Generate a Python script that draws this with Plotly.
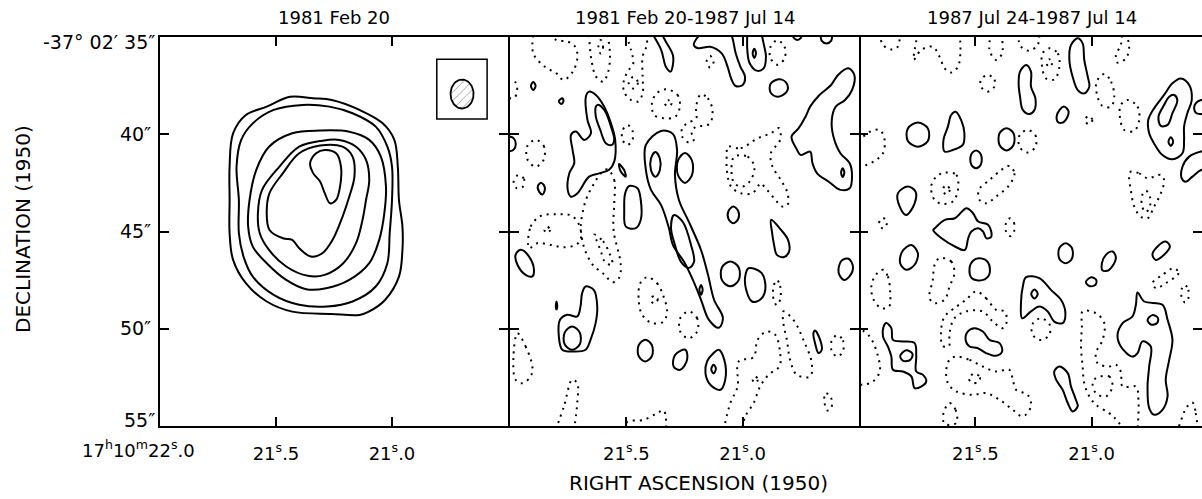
import numpy as np
import plotly.graph_objects as go

# ---------------- labels / ticks ----------------
PANEL_TITLES = ["1981 Feb 20", "1981 Feb 20-1987 Jul 14", "1987 Jul 24-1987 Jul 14"]
RA_TICKS = [21.5, 21.0]
RA_TICKTEXT = ["21<sup>s</sup>.5", "21<sup>s</sup>.0"]
RA_ORIGIN = 22.0
RA_ORIGIN_LABEL = "17<sup>h</sup>10<sup>m</sup>22<sup>s</sup>.0"
DEC_TICKS = [40, 45, 50]
DEC_TICKTEXT = ["40″", "45″", "50″"]
DEC_END_TICKS = [35, 55]
DEC_END_TEXT = ["-37° 02′ 35″", "55″"]
X_TITLE = "RIGHT ASCENSION (1950)"
Y_TITLE = "DECLINATION (1950)"
RA_RANGE_FULL = [22.0, 20.5]
RA_RANGE_CUT = [22.0, 20.526]
DEC_RANGE = [55, 35]

# beam (panel 1)
BEAM_RA, BEAM_DEC = 20.698, 37.93
BEAM_RA_WIDTH, BEAM_DEC_HEIGHT = 0.099, 1.49
BEAM_BOX_RA = [20.807, 20.59]
BEAM_BOX_DEC = [36.15, 39.21]

# ---------------- contours: (RA seconds, Dec arcsec) ----------------
# Panel 1: 1981 Feb 20 (all positive)
P1_POS = [
    [(21.34,38.15),(21.44,38.07),(21.54,38.58),(21.63,39.01),(21.685,39.95),(21.70,41.66),(21.70,43.38),(21.70,45.09),(21.685,46.46),(21.63,47.66),(21.54,48.60),(21.43,49.12),(21.26,49.24),(21.14,49.29),(21.10,49.12),(21.03,48.52),(20.97,47.32),(20.955,45.95),(20.955,44.75),(20.97,43.38),(20.975,41.66),(20.99,40.29),(21.04,39.44),(21.14,38.75),(21.26,38.24)],
    [(21.385,38.49),(21.51,38.75),(21.60,39.44),(21.65,40.29),(21.67,41.66),(21.66,43.38),(21.66,45.09),(21.64,46.29),(21.60,47.32),(21.51,48.26),(21.40,48.77),(21.28,48.86),(21.17,48.60),(21.07,47.83),(21.02,46.63),(21.01,45.09),(21.00,43.38),(21.00,41.66),(21.02,40.64),(21.07,39.61),(21.17,38.92),(21.27,38.58)],
    [(21.31,39.81),(21.43,39.95),(21.53,40.64),(21.585,41.83),(21.614,43.38),(21.62,44.75),(21.60,45.78),(21.54,46.63),(21.456,47.49),(21.37,47.97),(21.284,47.92),(21.184,47.49),(21.098,46.63),(21.055,45.43),(21.033,44.06),(21.026,42.69),(21.048,41.15),(21.098,40.29),(21.184,39.87)],
    [(21.30,40.33),(21.40,40.64),(21.485,41.66),(21.56,42.86),(21.578,44.06),(21.57,45.09),(21.53,45.95),(21.456,46.80),(21.363,47.28),(21.29,47.23),(21.21,46.63),(21.155,45.60),(21.127,44.40),(21.112,43.38),(21.098,42.35),(21.112,41.32),(21.155,40.64),(21.227,40.29)],
    [(21.31,40.58),(21.40,40.98),(21.47,42.00),(21.528,43.03),(21.54,44.06),(21.528,44.92),(21.47,45.35),(21.43,45.43),(21.40,45.86),(21.35,46.29),(21.30,46.12),(21.256,45.43),(21.213,44.23),(21.184,43.20),(21.162,42.18),(21.17,41.15),(21.213,40.64)],
    [(21.29,40.81),(21.327,40.98),(21.353,41.49),(21.34,42.00),(21.31,42.43),(21.29,43.03),(21.267,43.55),(21.241,43.38),(21.224,42.69),(21.22,41.66),(21.241,40.98)],
]

# Panel 2: 1981 Feb 20 - 1987 Jul 14
P2_POS = [
    [(21.39,34.8),(21.35,35.67),(21.33,36.53),(21.31,36.78),(21.30,36.44),(21.30,35.93),(21.33,35.24),(21.35,34.8)],
    [(21.18,34.8),(21.21,35.41),(21.19,35.58),(21.14,35.50),(21.09,35.84),(21.065,36.52),(21.05,37.12),(21.03,37.52),(21.00,37.47),(20.99,37.04),(21.01,36.52),(21.03,35.84),(21.04,35.24),(21.05,34.8)],
    [(20.98,34.8),(20.98,35.67),(20.97,36.35),(20.94,36.73),(20.91,36.61),(20.90,36.01),(20.91,35.33),(20.92,34.8)],
    [(20.95,35.6),(20.943,35.84),(20.95,36.08),(20.957,35.84)],
    [(20.785,34.8),(20.78,35.05),(20.765,35.15),(20.75,35.05),(20.745,34.8)],
    [(20.665,34.8),(20.66,35.2),(20.64,35.33),(20.62,35.2),(20.615,34.8)],
    [(20.84,37.17),(20.81,37.4),(20.81,37.8),(20.85,38.07),(20.88,37.85),(20.88,37.4)],
    [(20.546,36.61),(20.52,36.95),(20.53,37.73),(20.56,38.24),(20.60,38.58),(20.617,39.27),(20.61,40.12),(20.58,40.98),(20.54,41.49),(20.53,42.18),(20.54,42.78),(20.58,42.86),(20.63,42.44),(20.68,42.01),(20.70,41.49),(20.71,40.89),(20.75,41.07),(20.77,40.72),(20.79,40.12),(20.76,39.70),(20.73,39.10),(20.71,38.58),(20.67,37.98),(20.62,37.47),(20.59,36.95)],
    [(20.57,41.75),(20.563,41.97),(20.57,42.2),(20.577,41.97)],
    [(22.01,40.10),(21.985,40.2),(21.975,40.5),(21.985,40.8),(22.01,40.9)],
    [(21.90,37.32),(21.89,37.52),(21.90,37.72),(21.91,37.52)],
    [(21.775,38.15),(21.77,38.3),(21.78,38.45),(21.79,38.3)],
    [(21.865,42.5),(21.85,42.75),(21.86,43.1),(21.875,42.95),(21.88,42.65)],
    [(21.66,37.81),(21.674,38.07),(21.667,39.27),(21.652,39.95),(21.681,40.29),(21.717,39.86),(21.738,40.04),(21.731,40.81),(21.724,41.49),(21.745,42.01),(21.752,42.86),(21.738,43.21),(21.710,43.03),(21.660,42.18),(21.617,42.01),(21.574,41.83),(21.552,41.41),(21.548,40.29),(21.566,39.44),(21.595,38.58),(21.631,37.98)],
    [(21.624,38.49),(21.595,38.75),(21.566,39.61),(21.552,40.29),(21.562,40.55),(21.588,40.46),(21.612,39.78),(21.631,39.09),(21.631,38.58)],
    [(21.531,41.53),(21.510,41.83),(21.502,42.18),(21.524,41.92)],
    [(21.488,42.66),(21.452,42.78),(21.438,43.38),(21.438,44.40),(21.459,44.83),(21.502,44.75),(21.509,43.89),(21.505,43.03)],
    [(21.351,39.83),(21.30,39.98),(21.282,40.81),(21.291,42.09),(21.274,43.38),(21.231,44.51),(21.179,45.95),(21.149,47.23),(21.123,48.51),(21.085,49.44),(21.102,49.95),(21.145,49.54),(21.179,48.51),(21.214,47.49),(21.252,46.56),(21.30,45.69),(21.317,44.82),(21.351,43.63),(21.394,42.86),(21.416,41.83),(21.416,40.55)],
    [(21.295,44.15),(21.257,44.51),(21.222,45.69),(21.209,46.56),(21.231,46.87),(21.265,46.56),(21.291,45.69),(21.308,44.82)],
    [(21.248,40.96),(21.218,41.35),(21.218,42.1),(21.248,42.5),(21.278,42.1),(21.278,41.35)],
    [(21.375,40.91),(21.356,41.25),(21.356,41.85),(21.375,42.19),(21.394,41.85),(21.394,41.25)],
    [(21.179,47.75),(21.172,48.0),(21.179,48.25),(21.186,48.0)],
    [(21.954,45.94),(21.918,46.29),(21.897,46.97),(21.904,47.31),(21.933,47.23),(21.968,46.71),(21.976,46.20)],
    [(21.80,48.6),(21.797,48.85),(21.80,49.0),(21.803,48.85)],
    [(21.675,47.83),(21.64,48.0),(21.625,48.86),(21.632,49.71),(21.654,50.57),(21.675,51.08),(21.725,51.17),(21.775,51.08),(21.79,50.40),(21.785,49.54),(21.754,49.28),(21.711,49.37),(21.697,48.86),(21.69,48.17)],
    [(21.733,49.88),(21.70,50.2),(21.70,50.8),(21.733,51.08),(21.765,50.8),(21.765,50.2)],
    [(21.418,50.56),(21.39,50.85),(21.39,51.4),(21.418,51.68),(21.447,51.4),(21.447,50.85)],
    [(21.246,51.08),(21.239,51.6),(21.268,52.11),(21.297,51.94),(21.29,51.34)],
    [(21.103,51.08),(21.079,51.60),(21.075,52.62),(21.096,53.14),(21.139,52.88),(21.16,52.28),(21.153,51.68),(21.125,51.25)],
    [(21.125,51.85),(21.115,52.05),(21.125,52.3),(21.135,52.08)],
    [(21.04,43.72),(21.019,43.95),(21.019,44.35),(21.04,44.58),(21.061,44.35),(21.061,43.95)],
    [(20.878,44.40),(20.835,44.92),(20.805,45.43),(20.801,46.05),(20.822,46.31),(20.853,46.20),(20.865,45.69),(20.874,45.02)],
    [(21.053,46.54),(21.017,46.85),(21.017,47.5),(21.053,47.82),(21.089,47.5),(21.089,46.85)],
    [(20.975,46.89),(20.918,47.14),(20.903,48.0),(20.925,48.51),(20.96,48.6),(20.985,48.0),(20.989,47.31)],
    [(20.545,46.4),(20.526,46.8),(20.54,47.3),(20.565,47.49),(20.588,47.1),(20.575,46.5)],
    [(20.689,50.09),(20.667,50.57),(20.66,51.08),(20.674,51.25),(20.689,50.74),(20.696,50.23)],
]

P2_NEG = [
    [(21.90,34.9),(21.90,35.84),(21.85,36.53),(21.80,36.87),(21.77,37.21),(21.73,36.78),(21.71,36.01),(21.72,35.50),(21.75,35.24),(21.80,35.16),(21.83,34.9)],
    [(21.66,34.9),(21.65,36.18),(21.63,37.04),(21.60,37.30),(21.58,36.87),(21.57,36.01),(21.58,34.9)],
    [(21.61,35.15),(21.60,35.5),(21.61,35.85),(21.62,35.5)],
    [(21.50,34.9),(21.48,35.67),(21.47,36.35),(21.49,36.70),(21.51,37.21),(21.51,37.81),(21.48,38.24),(21.45,38.32),(21.43,37.90),(21.43,37.04),(21.43,36.01),(21.41,35.33),(21.42,34.9)],
    [(21.47,37.05),(21.45,37.35),(21.47,37.65),(21.49,37.35)],
    [(21.33,37.69),(21.28,37.98),(21.27,38.58),(21.29,39.10),(21.34,39.18),(21.38,39.01),(21.39,38.41),(21.37,37.90)],
    [(21.32,38.25),(21.305,38.41),(21.32,38.57),(21.335,38.41)],
    [(21.18,37.95),(21.15,38.15),(21.13,38.75),(21.14,39.44),(21.17,39.57),(21.20,39.61),(21.22,39.87),(21.21,40.29),(21.23,40.43),(21.26,40.12),(21.26,39.70),(21.24,39.44),(21.20,39.18),(21.20,38.58)],
    [(21.14,35.97),(21.125,36.27),(21.14,36.57),(21.155,36.27)],
    [(20.85,35.17),(20.82,35.5),(20.82,36.1),(20.85,36.43),(20.88,36.1),(20.88,35.5)],
    [(21.89,40.29),(21.855,40.6),(21.855,41.3),(21.89,41.67),(21.925,41.3),(21.925,40.6)],
    [(22.01,37.2),(21.975,37.35),(21.97,37.8),(21.98,38.1),(22.01,38.15)],
    [(21.965,42.1),(21.94,42.3),(21.945,42.7),(21.97,42.78),(21.985,42.5)],
    [(21.495,39.53),(21.474,39.8),(21.474,40.3),(21.495,40.55),(21.516,40.3),(21.516,39.8)],
    [(21.581,41.80),(21.552,42.35),(21.552,43.55),(21.555,44.92),(21.524,46.70),(21.531,47.38),(21.559,47.61),(21.595,47.21),(21.645,46.70),(21.681,45.84),(21.695,44.99),(21.695,44.57),(21.674,43.38),(21.638,42.52),(21.602,41.92)],
    [(21.638,45.16),(21.60,45.5),(21.57,46.2),(21.56,46.7),(21.59,46.6),(21.61,46.0),(21.63,45.4)],
    [(21.918,45.86),(21.911,44.75),(21.868,44.20),(21.797,44.11),(21.733,44.20),(21.70,44.75),(21.697,45.43),(21.718,45.69),(21.768,45.81),(21.825,45.69),(21.883,45.60)],
    [(21.84,44.75),(21.828,44.92),(21.84,45.09),(21.852,44.92)],
    [(21.065,40.64),(21.008,40.72),(20.936,40.21),(20.879,39.95),(20.843,39.69),(20.839,40.29),(20.879,40.98),(20.872,41.66),(20.836,42.35),(20.807,43.03),(20.807,43.63),(20.829,43.72),(20.865,43.29),(20.907,42.69),(20.922,42.52),(20.958,43.03),(21.008,43.03),(21.05,42.69),(21.068,41.83),(21.068,40.98)],
    [(21.036,41.15),(20.979,41.15),(20.95,41.66),(20.965,42.35),(21.0,42.69),(21.036,42.52),(21.048,41.83)],
    [(21.968,50.23),(21.933,50.91),(21.904,51.94),(21.911,52.45),(21.947,52.80),(21.976,52.62),(21.985,51.43)],
    [(21.804,55.2),(21.768,53.99),(21.733,52.62),(21.711,52.80),(21.711,53.82),(21.725,55.2)],
    [(21.497,55.2),(21.497,54.8),(21.425,54.68),(21.368,54.34),(21.34,54.2),(21.33,54.6),(21.33,55.2)],
    [(21.41,47.35),(21.368,47.66),(21.34,48.34),(21.325,49.11),(21.34,49.63),(21.39,49.71),(21.432,49.28),(21.447,48.51),(21.44,47.66)],
    [(21.38,48.3),(21.365,48.5),(21.38,48.72),(21.395,48.5)],
    [(21.232,49.11),(21.196,49.45),(21.196,50.15),(21.232,50.49),(21.268,50.15),(21.268,49.45)],
    [(20.853,47.49),(20.839,47.8),(20.839,48.5),(20.853,48.79),(20.867,48.5),(20.867,47.8)],
    [(21.082,55.2),(21.053,53.82),(21.022,52.97),(21.017,51.68),(20.953,51.46),(20.936,50.57),(20.896,50.14),(20.86,50.31),(20.839,51.25),(20.842,51.94),(20.889,52.37),(20.925,52.97),(20.953,53.82),(20.989,54.51),(21.003,55.2)],
    [(20.946,52.45),(20.935,52.62),(20.946,52.8),(20.957,52.62)],
    [(20.825,49.11),(20.782,49.54),(20.739,50.57),(20.703,51.77),(20.71,52.45),(20.767,52.37),(20.796,51.60),(20.81,50.57),(20.825,49.71)],
    [(20.593,50.33),(20.569,50.6),(20.569,51.15),(20.593,51.43),(20.617,51.15),(20.617,50.6)],
    [(20.645,53.3),(20.62,53.55),(20.62,54.1),(20.637,54.2),(20.648,53.8)],
]

# Panel 3: 1987 Jul 24 - 1987 Jul 14
P3_POS = [
    [(21.06,35.07),(21.039,35.33),(21.032,36.18),(21.017,37.04),(21.01,37.55),(21.032,37.90),(21.06,37.73),(21.082,37.04),(21.096,36.18),(21.089,35.41)],
    [(21.282,36.44),(21.261,36.78),(21.261,37.55),(21.242,38.15),(21.246,38.75),(21.268,38.96),(21.296,38.75),(21.308,38.07),(21.314,37.38),(21.308,36.78)],
    [(21.118,38.58),(21.099,38.84),(21.118,39.35),(21.142,39.40),(21.151,39.10),(21.136,38.72)],
    [(20.617,37.13),(20.581,37.47),(20.57,38.24),(20.589,38.92),(20.603,39.61),(20.603,40.29),(20.61,40.98),(20.653,41.29),(20.696,41.07),(20.732,40.47),(20.753,39.95),(20.757,39.27),(20.732,38.67),(20.689,37.98),(20.653,37.38)],
    [(20.646,37.98),(20.632,38.24),(20.653,38.92),(20.674,39.52),(20.703,39.57),(20.713,39.10),(20.689,38.50),(20.667,38.07)],
    [(20.66,40.15),(20.65,40.38),(20.66,40.6),(20.67,40.38)],
    [(20.50,38.2),(20.53,38.24),(20.553,38.41),(20.56,38.67),(20.55,38.92),(20.53,38.96),(20.50,39.0)],
    [(20.50,40.85),(20.53,40.89),(20.581,41.15),(20.61,41.67),(20.613,42.27),(20.596,42.44),(20.567,42.18),(20.53,41.84),(20.50,41.8)],
    [(21.747,39.40),(21.704,39.7),(21.704,40.35),(21.747,40.64),(21.79,40.35),(21.79,39.7)],
    [(21.585,38.84),(21.561,39.27),(21.547,39.95),(21.554,40.55),(21.597,40.81),(21.632,40.89),(21.637,40.29),(21.618,39.61),(21.604,39.01)],
    [(21.497,40.83),(21.476,41.05),(21.476,41.55),(21.497,41.75),(21.518,41.55),(21.518,41.05)],
    [(21.366,39.69),(21.336,39.95),(21.336,40.55),(21.366,40.83),(21.396,40.55),(21.396,39.95)],
    [(21.79,42.69),(21.757,42.95),(21.761,43.55),(21.797,44.15),(21.825,43.72),(21.833,43.04)],
    [(21.674,44.83),(21.631,44.40),(21.588,44.32),(21.538,43.80),(21.51,44.06),(21.488,44.49),(21.445,44.66),(21.431,45.26),(21.452,45.35),(21.467,45.0),(21.488,44.83),(21.517,45.0),(21.531,45.35),(21.545,45.95),(21.588,45.77),(21.645,45.35),(21.681,44.92)],
    [(21.775,45.69),(21.747,46.12),(21.761,46.71),(21.797,46.97),(21.823,46.63),(21.814,46.03)],
    [(21.482,46.38),(21.445,46.6),(21.44,47.2),(21.47,47.5),(21.515,47.4),(21.525,46.9),(21.51,46.5)],
    [(21.112,45.61),(21.085,45.85),(21.085,46.4),(21.112,46.63),(21.139,46.4),(21.139,45.85)],
    [(20.91,46.03),(20.896,46.37),(20.925,46.97),(20.953,47.01),(20.956,46.63),(20.939,46.20)],
    [(21.002,47.35),(20.98,47.5),(20.985,47.75),(21.01,47.8),(21.025,47.6)],
    [(20.682,45.52),(20.664,45.77),(20.689,46.2),(20.724,46.46),(20.739,46.2),(20.717,45.77)],
    [(21.282,47.35),(21.225,47.40),(21.175,48.0),(21.132,48.51),(21.113,49.20),(21.125,49.71),(21.161,49.63),(21.189,49.11),(21.225,48.86),(21.261,49.11),(21.299,49.46),(21.304,48.68),(21.296,47.83)],
    [(21.246,47.98),(21.232,48.2),(21.246,48.45),(21.26,48.2)],
    [(21.504,49.97),(21.468,50.14),(21.439,50.57),(21.396,50.74),(21.385,51.17),(21.411,51.39),(21.454,51.25),(21.489,51.0),(21.525,50.91),(21.542,50.57),(21.532,50.14)],
    [(21.883,49.71),(21.861,49.97),(21.854,50.57),(21.811,50.65),(21.761,50.74),(21.754,51.43),(21.754,52.20),(21.725,52.37),(21.711,52.71),(21.733,52.97),(21.761,53.05),(21.775,52.45),(21.811,52.20),(21.854,52.11),(21.861,51.43),(21.876,50.91),(21.897,50.40),(21.894,49.88)],
    [(21.797,51.1),(21.77,51.3),(21.78,51.6),(21.81,51.65),(21.823,51.4)],
    [(21.139,51.94),(21.103,52.28),(21.089,52.97),(21.068,53.65),(21.06,53.99),(21.082,54.25),(21.103,53.82),(21.125,53.14),(21.153,52.62),(21.161,52.20)],
    [(20.803,48.14),(20.774,48.60),(20.696,48.77),(20.674,49.54),(20.653,50.57),(20.667,51.60),(20.682,52.62),(20.674,53.48),(20.696,54.17),(20.732,54.42),(20.753,54.08),(20.76,52.97),(20.753,51.94),(20.746,50.91),(20.782,50.65),(20.803,51.25),(20.825,51.43),(20.875,50.91),(20.889,50.31),(20.867,49.71),(20.825,49.37),(20.81,48.77)],
    [(20.739,49.3),(20.715,49.45),(20.72,49.72),(20.745,49.78),(20.76,49.55)],
]

P3_NEG = [
    [(21.911,34.8),(21.897,35.41),(21.861,35.64),(21.833,35.50),(21.825,34.8)],
    [(21.747,34.8),(21.761,35.67),(21.765,36.18),(21.733,35.67),(21.683,35.50),(21.654,36.01),(21.632,36.61),(21.604,36.83),(21.575,36.53),(21.564,35.67),(21.568,34.8)],
    [(21.432,34.8),(21.439,35.67),(21.411,36.18),(21.385,35.84),(21.389,34.8)],
    [(21.318,34.8),(21.304,35.50),(21.268,35.70),(21.232,35.41),(21.225,34.8)],
    [(21.182,35.58),(21.146,35.84),(21.139,36.53),(21.16,37.18),(21.196,37.13),(21.213,36.53),(21.211,35.84)],
    [(21.182,36.15),(21.17,36.35),(21.182,36.55),(21.194,36.35)],
    [(20.853,34.8),(20.839,35.50),(20.853,36.10),(20.889,36.32),(20.896,35.93),(20.875,35.41),(20.87,34.8)],
    [(21.447,36.95),(21.418,37.2),(21.418,37.55),(21.447,37.81),(21.476,37.55),(21.476,37.2)],
    [(20.946,36.90),(20.917,37.30),(20.903,38.07),(20.917,38.58),(20.953,38.55),(20.975,38.07),(20.979,37.30)],
    [(21.013,39.05),(20.997,39.27),(21.013,39.49),(21.029,39.27)],
    [(20.846,38.24),(20.803,38.58),(20.796,39.27),(20.817,39.82),(20.86,39.78),(20.879,39.10),(20.875,38.50)],
    [(22.01,40.20),(21.983,40.12),(21.954,39.87),(21.911,39.78),(21.89,40.29),(21.897,40.98),(21.926,41.32),(21.968,41.58),(22.01,41.67)],
    [(21.276,39.78),(21.242,40.05),(21.242,40.65),(21.276,40.94),(21.31,40.65),(21.31,40.05)],
    [(21.632,41.97),(21.582,42.09),(21.575,42.86),(21.597,43.46),(21.64,43.58),(21.675,43.38),(21.69,42.69),(21.668,42.18)],
    [(21.625,42.6),(21.61,42.86),(21.625,43.1),(21.64,42.86)],
    [(21.354,41.63),(21.332,42.01),(21.354,42.61),(21.411,43.21),(21.454,43.55),(21.482,43.38),(21.485,42.86),(21.439,42.35),(21.389,41.84)],
    [(21.897,44.3),(21.88,44.58),(21.897,44.85),(21.914,44.58)],
    [(21.351,44.32),(21.334,44.55),(21.334,45.0),(21.351,45.24),(21.368,45.0),(21.368,44.55)],
    [(20.832,41.92),(20.796,42.01),(20.76,42.26),(20.703,42.09),(20.689,42.35),(20.703,43.04),(20.732,43.72),(20.76,44.32),(20.789,44.24),(20.817,43.72),(20.832,42.86),(20.839,42.18)],
    [(20.767,42.9),(20.75,43.2),(20.752,43.8),(20.77,44.0),(20.785,43.6),(20.782,43.1)],
    [(21.897,46.97),(21.876,47.31),(21.866,48.17),(21.871,48.86),(21.904,48.94),(21.937,48.51),(21.947,47.83),(21.928,47.23)],
    [(21.654,46.37),(21.604,46.54),(21.59,47.14),(21.611,47.83),(21.632,48.51),(21.675,48.68),(21.697,48.43),(21.683,47.49),(21.675,46.71)],
    [(20.646,46.89),(20.627,47.14),(20.682,47.66),(20.724,47.91),(20.739,47.66),(20.696,47.23)],
    [(20.599,47.75),(20.585,48.0),(20.585,48.45),(20.599,48.65),(20.613,48.4),(20.613,47.95)],
    [(21.218,49.46),(21.182,49.75),(21.182,50.3),(21.218,50.58),(21.254,50.3),(21.254,49.75)],
    [(21.497,48.08),(21.454,48.43),(21.411,49.03),(21.375,49.11),(21.365,49.63),(21.382,49.97),(21.425,49.63),(21.468,49.11),(21.54,49.11),(21.59,49.46),(21.611,50.23),(21.614,50.91),(21.64,50.88),(21.647,50.06),(21.632,49.37),(21.59,48.94),(21.54,48.51)],
    [(22.01,49.9),(21.954,50.4),(21.918,51.43),(21.911,52.2),(21.94,52.71),(21.983,52.88),(22.01,52.8)],
    [(21.582,51.43),(21.525,51.60),(21.468,51.94),(21.411,52.20),(21.354,52.11),(21.339,52.62),(21.325,53.14),(21.275,53.40),(21.261,53.99),(21.296,54.51),(21.339,54.17),(21.396,53.65),(21.454,53.31),(21.511,53.40),(21.582,53.22),(21.618,52.80),(21.625,52.11),(21.611,51.60)],
    [(21.504,52.3),(21.48,52.5),(21.49,52.75),(21.515,52.78),(21.528,52.55)],
    [(21.611,53.82),(21.585,54.17),(21.582,54.85),(21.632,54.89),(21.637,54.34)],
    [(20.86,55.2),(20.90,54.6),(20.925,54.34),(20.982,53.91),(21.01,53.48),(21.032,52.80),(21.039,51.94),(21.046,50.91),(21.042,49.88),(21.039,49.11),(20.982,49.20),(20.946,49.71),(20.953,50.57),(20.982,51.25),(20.975,51.77),(20.925,51.94),(20.896,51.85),(20.875,52.20),(20.867,52.97),(20.81,52.97),(20.799,53.65),(20.803,55.2)],
    [(20.982,52.54),(20.925,52.45),(20.911,52.97),(20.939,53.48),(20.982,53.31),(20.996,52.80)],
    [(20.567,53.79),(20.553,54.34),(20.553,55.3),(20.624,55.3),(20.61,54.51),(20.589,53.99)],
]


def build_path(contours, ra_range):
    """Concatenate contours, closing those that lie fully inside the panel."""
    lo, hi = min(ra_range), max(ra_range)

    def inside(p):
        return lo <= p[0] <= hi and 35 <= p[1] <= 55

    xs, ys = [], []
    for c in contours:
        pts = list(c)
        if inside(pts[0]) and inside(pts[-1]):
            pts.append(pts[0])
        xs += [p[0] for p in pts] + [None]
        ys += [p[1] for p in pts] + [None]
    return xs, ys


SOLID = dict(color="black", width=2.0, shape="spline", smoothing=1.0)
DOTTED = dict(color="black", width=2.0, shape="spline", smoothing=1.0, dash="2px,5px")

fig = go.Figure()
panels = [
    (P1_POS, [], RA_RANGE_FULL, "x", "y"),
    (P2_POS, P2_NEG, RA_RANGE_FULL, "x2", "y2"),
    (P3_POS, P3_NEG, RA_RANGE_CUT, "x3", "y3"),
]
for pos, neg, rng, xa, ya in panels:
    if pos:
        x, y = build_path(pos, rng)
        fig.add_trace(go.Scatter(x=x, y=y, mode="lines", line=SOLID, xaxis=xa, yaxis=ya,
                                 hoverinfo="skip", connectgaps=False))
    if neg:
        x, y = build_path(neg, rng)
        fig.add_trace(go.Scatter(x=x, y=y, mode="lines", line=DOTTED, xaxis=xa, yaxis=ya,
                                 hoverinfo="skip", connectgaps=False))

# beam ellipse (hatched)
t = np.linspace(0, 2 * np.pi, 61)
fig.add_trace(go.Scatter(
    x=BEAM_RA + BEAM_RA_WIDTH / 2 * np.cos(t),
    y=BEAM_DEC + BEAM_DEC_HEIGHT / 2 * np.sin(t),
    mode="lines", fill="toself", fillcolor="white",
    fillpattern=dict(shape="/", fgcolor="black", bgcolor="white", size=6, solidity=0.12),
    line=dict(color="black", width=1.8), xaxis="x", yaxis="y", hoverinfo="skip"))
fig.add_shape(type="rect", xref="x", yref="y", x0=BEAM_BOX_RA[0], x1=BEAM_BOX_RA[1],
              y0=BEAM_BOX_DEC[0], y1=BEAM_BOX_DEC[1], line=dict(color="black", width=1.5))

W, H = 1202, 499
ydom = [1 - 426 / H, 1 - 37 / H]
xdoms = [[160 / W, 508 / W], [510 / W, 859 / W], [859 / W, 1.0]]

axis_common = dict(showgrid=False, zeroline=False, showline=True, linecolor="black", linewidth=2,
                   mirror="ticks", ticks="inside", ticklen=9, tickwidth=1.5, tickcolor="black",
                   automargin=False)

layout = dict(
    width=W, height=H, margin=dict(l=0, r=0, t=0, b=0, autoexpand=False),
    paper_bgcolor="white", plot_bgcolor="white", showlegend=False,
    font=dict(family="DejaVu Sans", size=18, color="black"),
)
for i, (rng, dom) in enumerate(zip([RA_RANGE_FULL, RA_RANGE_FULL, RA_RANGE_CUT], xdoms)):
    sfx = "" if i == 0 else str(i + 1)
    layout["xaxis" + sfx] = dict(axis_common, domain=dom, range=rng, anchor="y" + sfx,
                                 tickvals=RA_TICKS, ticktext=RA_TICKTEXT, ticklabelstandoff=10,
                                 tickfont=dict(size=18))
    layout["yaxis" + sfx] = dict(axis_common, domain=ydom, range=DEC_RANGE, anchor="x" + sfx,
                                 tickvals=DEC_TICKS, ticktext=DEC_TICKTEXT,
                                 showticklabels=(i == 0), ticklabelstandoff=3,
                                 tickfont=dict(size=19),
                                 showline=(i < 2))
fig.update_layout(**layout)

ann = []
for i, title in enumerate(PANEL_TITLES):
    sfx = "" if i == 0 else str(i + 1)
    ann.append(dict(text=title, xref="x" + sfx + " domain", x=0.5 if i < 2 else 0.505, yref="paper",
                    y=1 - 17 / H, showarrow=False, xanchor="center", yanchor="middle",
                    font=dict(size=18)))
# end labels of the declination axis (slightly inset as in the original)
for val, txt, shift in zip(DEC_END_TICKS, DEC_END_TEXT, [-5, 6]):
    ann.append(dict(text=txt, xref="paper", x=157 / W, xanchor="right", yref="y", y=val,
                    yanchor="middle", yshift=shift, showarrow=False, font=dict(size=19)))
ann.append(dict(text=RA_ORIGIN_LABEL, xref="x", x=RA_ORIGIN, xanchor="center", xshift=-22,
                yref="paper", y=1 - 449 / H, yanchor="middle", showarrow=False,
                font=dict(size=18)))
ann.append(dict(text=X_TITLE, xref="paper", x=698 / W, yref="paper", y=1 - 483 / H,
                showarrow=False, xanchor="center", yanchor="middle", font=dict(size=20)))
ann.append(dict(text=Y_TITLE, xref="paper", x=23 / W, yref="paper", y=1 - 229 / H,
                showarrow=False, textangle=-90, xanchor="center", yanchor="middle",
                font=dict(size=20)))
fig.update_layout(annotations=ann)

fig.write_html("out.html")
